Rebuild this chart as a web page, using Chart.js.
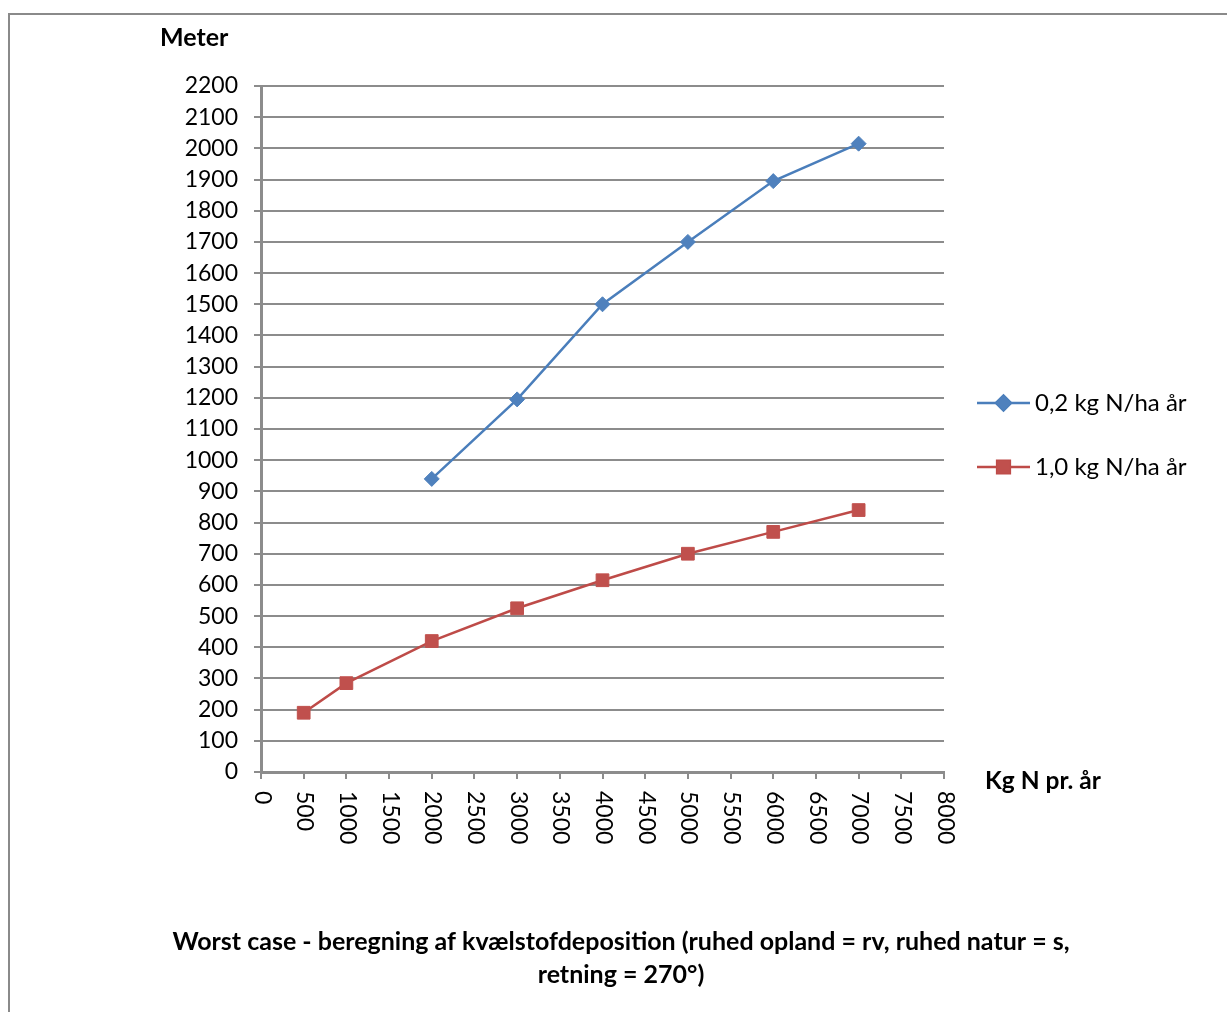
<!DOCTYPE html>
<html>
<head>
<meta charset="utf-8">
<script src="https://cdn.jsdelivr.net/npm/chart.js@4.4.0/dist/chart.umd.min.js"></script>
<style>
  html, body { margin: 0; padding: 0; background: #fff; overflow: hidden; }
  #frame {
    position: absolute; left: 8px; top: 13px;
    width: 1240px; height: 1040px;
    border: 2px solid #8a8a8a; box-sizing: border-box;
  }
  #c { position: absolute; left: 0; top: 0; }
</style>
</head>
<body>
<div id="frame"></div>
<canvas id="c" width="1227" height="1012"></canvas>
<script>
// kg N pr. år
const xLowDep = [2000, 3000, 4000, 5000, 6000, 7000];
const xHighDep = [500, 1000, 2000, 3000, 4000, 5000, 6000, 7000];
// meter
const meterLowDep = [940, 1195, 1500, 1700, 1895, 2015];
const meterHighDep = [190, 285, 420, 525, 615, 700, 770, 840];

const seriesNames = ['0,2 kg N/ha år', '1,0 kg N/ha år'];
const xTickValues = [0, 500, 1000, 1500, 2000, 2500, 3000, 3500, 4000,
  4500, 5000, 5500, 6000, 6500, 7000, 7500, 8000];

const yTitle = 'Meter';
const xTitle = 'Kg N pr. år';
const chartTitle = [
  'Worst case - beregning af kvælstofdeposition (ruhed opland = rv, ruhed natur = s,',
  'retning = 270°)'
];

const BLUE_LINE = '#4a7ebb';
const BLUE_FILL = '#4f81bd';
const RED_LINE = '#be4b48';
const RED_FILL = '#c0504d';
const GRID = '#8c8c8c';
const FONT = 'Lato, "Open Sans", sans-serif';

const toPoints = (xs, ys) => xs.map((x, i) => ({x: x, y: ys[i]}));

// tekst der ikke kan laves med chart.js' egne akser: titler, roterede x-labels, legende
const extrasPlugin = {
  id: 'extras',
  afterDraw(chart) {
    const ctx = chart.ctx;
    const area = chart.chartArea;
    const xs = chart.scales.x;
    ctx.save();
    ctx.fillStyle = '#000';

    // x labels, læses oppefra og ned
    ctx.font = '23px ' + FONT;
    ctx.textAlign = 'left';
    ctx.textBaseline = 'middle';
    xTickValues.forEach(v => {
      const px = xs.getPixelForValue(v);
      ctx.save();
      ctx.translate(px + 1, area.bottom + 19);
      ctx.rotate(Math.PI / 2);
      ctx.fillText(String(v), 0, 0);
      ctx.restore();
    });

    // akse titler
    ctx.font = 'bold 25px ' + FONT;
    ctx.textAlign = 'left';
    ctx.fillText(yTitle, area.left - 101, area.top - 48);
    ctx.font = 'bold 24.5px ' + FONT;
    ctx.fillText(xTitle, area.right + 41, area.bottom + 9);

    // diagram titel i bunden
    ctx.font = 'bold 25px ' + FONT;
    ctx.textAlign = 'center';
    ctx.fillText(chartTitle[0], 621, 942);
    ctx.fillText(chartTitle[1], 621, 975);

    // legende
    const items = [
      {label: seriesNames[0], ds: chart.data.datasets[0], y: area.top + 317},
      {label: seriesNames[1], ds: chart.data.datasets[1], y: area.top + 381}
    ];
    items.forEach(it => {
      const x0 = area.right + 33;
      const x1 = x0 + 53;
      ctx.strokeStyle = it.ds.borderColor;
      ctx.lineWidth = 2.5;
      ctx.beginPath();
      ctx.moveTo(x0, it.y);
      ctx.lineTo(x1, it.y);
      ctx.stroke();
      Chart.helpers.drawPoint(ctx, {
        pointStyle: it.ds.pointStyle,
        radius: it.ds.pointRadius,
        borderWidth: 1
      }, (x0 + x1) / 2, it.y);
      ctx.fillStyle = it.ds.pointBackgroundColor;
      ctx.strokeStyle = it.ds.pointBorderColor;
      ctx.fill();
      ctx.fillStyle = '#000';
      ctx.font = '24px ' + FONT;
      ctx.textAlign = 'left';
      ctx.fillText(it.label, x1 + 5, it.y);
    });
    ctx.restore();
  }
};

new Chart(document.getElementById('c').getContext('2d'), {
  type: 'line',
  data: {
    datasets: [
      {
        label: seriesNames[0],
        data: toPoints(xLowDep, meterLowDep),
        borderColor: BLUE_LINE,
        borderWidth: 2.5,
        pointStyle: 'rectRot',
        pointRadius: 7.5,
        pointBackgroundColor: BLUE_FILL,
        pointBorderColor: BLUE_FILL,
        pointBorderWidth: 1,
        tension: 0
      },
      {
        label: seriesNames[1],
        data: toPoints(xHighDep, meterHighDep),
        borderColor: RED_LINE,
        borderWidth: 2.5,
        pointStyle: 'rect',
        pointRadius: 9,
        pointBackgroundColor: RED_FILL,
        pointBorderColor: RED_FILL,
        pointBorderWidth: 1,
        tension: 0
      }
    ]
  },
  options: {
    responsive: false,
    animation: false,
    devicePixelRatio: 1,
    layout: {padding: {left: 0, top: 86, right: 283, bottom: 0}},
    plugins: {
      legend: {display: false},
      tooltip: {enabled: false}
    },
    scales: {
      x: {
        type: 'linear',
        min: 0,
        max: 8000,
        ticks: {stepSize: 500, display: false},
        grid: {
          drawOnChartArea: false,
          drawTicks: true,
          tickLength: 7,
          color: GRID,
          lineWidth: 2
        },
        border: {color: GRID, width: 3},
        afterFit(scale) { scale.height = 240; }
      },
      y: {
        min: 0,
        max: 2200,
        ticks: {
          stepSize: 100,
          color: '#000',
          padding: 16,
          font: {family: FONT, size: 23},
          callback: v => String(v)
        },
        grid: {
          color: GRID,
          lineWidth: 2,
          tickLength: 7
        },
        border: {color: GRID, width: 3},
        afterFit(scale) { scale.width = 261; }
      }
    }
  },
  plugins: [extrasPlugin]
});
</script>
</body>
</html>
